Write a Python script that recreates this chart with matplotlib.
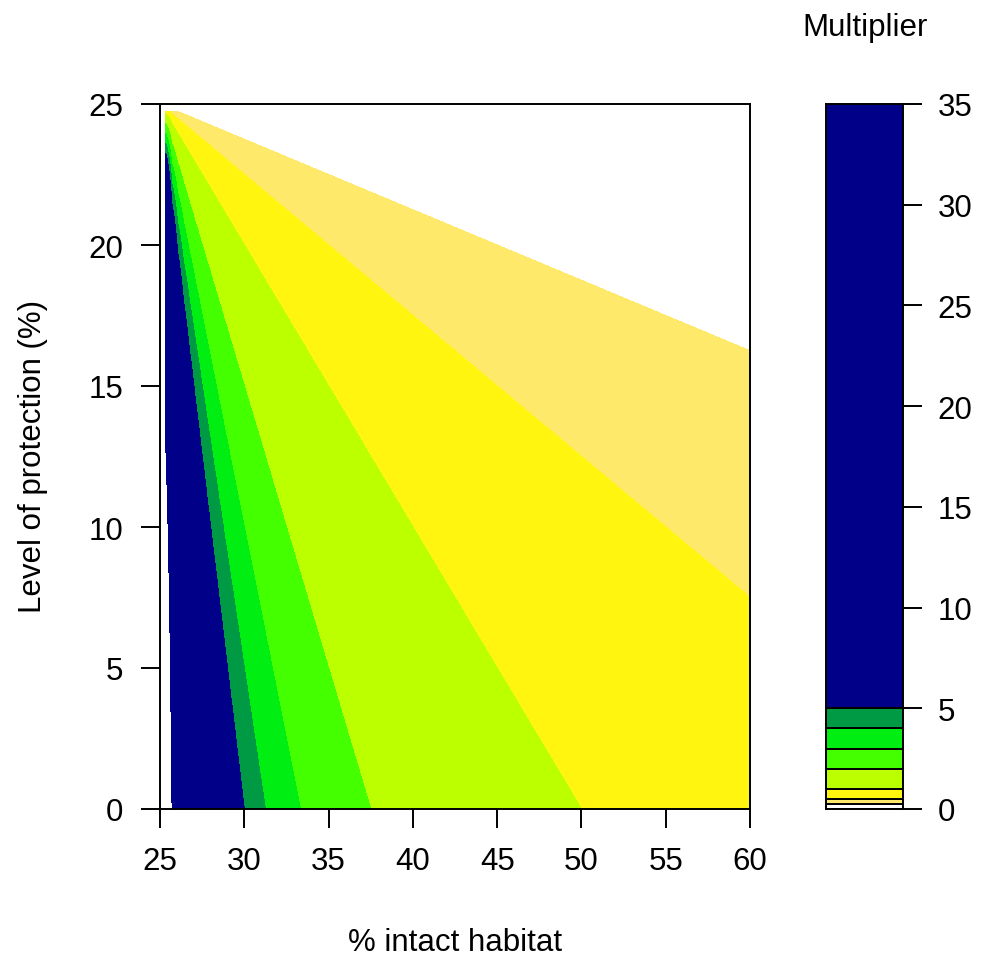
import numpy as np
import matplotlib
matplotlib.use("Agg")
import matplotlib.pyplot as plt

plt.rcParams['font.family'] = ['Liberation Sans', 'DejaVu Sans']

# Data
threshold = 25.0                          # % intact habitat threshold / max protection
habitat = np.linspace(25, 60, 101)        # x grid (% intact habitat)
protection = np.arange(0, 24.76, 0.25)    # y grid (level of protection %)
levels = [0, 0.25, 0.5, 1, 2, 3, 4, 5, 35]
colors = ['#FFFFFF', '#FFE96A', '#FFF50F', '#BBFF00', '#44FF00',
          '#00EE11', '#009944', '#000088']
x_ticks = [25, 30, 35, 40, 45, 50, 55, 60]
y_ticks = [0, 5, 10, 15, 20, 25]
cb_ticks = [0, 5, 10, 15, 20, 25, 30, 35]

H, P = np.meshgrid(habitat, protection)
with np.errstate(divide='ignore', invalid='ignore'):
    M = (threshold - P) / (H - threshold)
M = np.ma.masked_invalid(np.where(np.isfinite(M), M, np.nan))

W, Hh = 983, 962
fig = plt.figure(figsize=(W / 100, Hh / 100), dpi=100)
fs = 22.5
lw = 1.4
tl = 13.7

ax = fig.add_axes([160 / W, (Hh - 810) / Hh, 590 / W, 705 / Hh])
ax.contourf(H, P, M, levels=levels, colors=colors)
ax.set_xlim(25, 60)
ax.set_ylim(0, 25)
ax.set_xticks(x_ticks)
ax.set_yticks(y_ticks)
ax.tick_params(axis='both', direction='out', length=tl, width=lw, labelsize=fs)
ax.tick_params(axis='x', pad=13)
ax.tick_params(axis='y', pad=13)
for s in ax.spines.values():
    s.set_linewidth(lw)

cax = fig.add_axes([826 / W, (Hh - 810) / Hh, 77 / W, 705 / Hh])
bottoms = levels[:-1]
heights = np.diff(levels)
cax.bar([0.5] * len(heights), heights, bottom=bottoms, width=1.0,
        color=colors, edgecolor='black', linewidth=lw)
cax.set_xlim(0, 1)
cax.set_ylim(0, 35)
cax.set_xticks([])
cax.set_yticks(cb_ticks)
cax.yaxis.tick_right()
cax.tick_params(axis='y', direction='out', length=tl, width=lw, labelsize=fs, pad=11)
for s in cax.spines.values():
    s.set_linewidth(lw)

fig.text(455 / W, (Hh - 943) / Hh, '% intact habitat', ha='center', va='center', fontsize=fs)
fig.text(33 / W, (Hh - 456) / Hh, 'Level of protection (%)', ha='center', va='center',
         rotation=90, fontsize=fs)
fig.text(865 / W, (Hh - 28) / Hh, 'Multiplier', ha='center', va='center', fontsize=fs)

fig.savefig('out.png', dpi=100)
